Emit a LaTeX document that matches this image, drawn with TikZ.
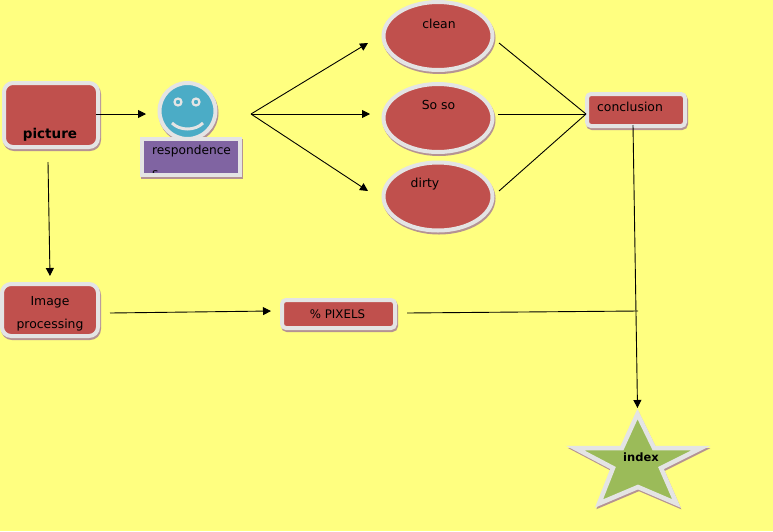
\documentclass[tikz,border=0pt]{standalone}
\usepackage{fontspec}
\setmainfont{DejaVu Sans}
\usetikzlibrary{shadows,shapes.geometric,arrows.meta}
\definecolor{bgy}{HTML}{FFFF80}
\definecolor{redf}{HTML}{C0504D}
\definecolor{rim}{HTML}{E4E4E4}
\definecolor{shad}{HTML}{B59393}
\definecolor{purp}{HTML}{8064A2}
\definecolor{cyanf}{HTML}{4BACC6}
\definecolor{greenf}{HTML}{9BBB59}
\tikzset{
 x=1pt,y=-1pt,
 softshadow/.style={drop shadow={shadow xshift=1pt,shadow yshift=-2pt,fill=#1,draw=#1,line width=4pt,opacity=1}},
 softshadow/.default=shad,
 rimmed/.style={draw=rim,line width=4pt,softshadow},
 redbox/.style={rimmed,fill=redf,rectangle,rounded corners=#1,inner sep=0pt},
 redbox/.default=6pt,
 redoval/.style={rimmed,fill=redf,ellipse,inner sep=0pt,minimum width=109pt,minimum height=68pt},
 lbl/.style={inner sep=0pt,text=black,font=\fontsize{12.4}{15}\selectfont},
 conn/.style={line width=0.9pt,draw=black},
 arr/.style={conn,-{Triangle[length=8pt,width=8pt]}},
}
\begin{document}
\begin{tikzpicture}
\useasboundingbox (0,0) rectangle (773,531);
\fill[bgy] (0,0) rectangle (773,531);
% boxes
\node[redbox=9pt,minimum width=94pt,minimum height=64pt] (picture) at (51,115) {};
\node[redbox=9pt,minimum width=96pt,minimum height=52pt] (image) at (50,310) {};
\node[redbox=4pt,minimum width=113pt,minimum height=28pt] (pixels) at (338.5,314) {};
\node[redbox=4pt,minimum width=98pt,minimum height=32pt] (concl) at (636,110) {};
% ovals
\node[redoval] (clean) at (438,36) {};
\node[redoval] (soso) at (438,118) {};
\node[redoval] (dirty) at (438,196.5) {};
% smiley
\node[rimmed,fill=cyanf,circle,inner sep=0pt,minimum size=56pt] (face) at (187.5,111) {};
\node[circle,fill=cyanf,draw=rim,line width=2.2pt,inner sep=0pt,minimum size=7pt] (eyeL) at (178,102) {};
\node[circle,fill=cyanf,draw=rim,line width=2.2pt,inner sep=0pt,minimum size=7pt] (eyeR) at (196,102) {};
\coordinate (smileL) at (172,123);
\coordinate (smileR) at (203,123);
\draw[rim,line width=3pt] (smileL) .. controls (180,131) and (195,131) .. (smileR);
% respondences box
\node[rimmed,fill=purp,rectangle,inner sep=0pt,minimum width=98pt,minimum height=36pt] (resp) at (191,157) {};
\begin{scope}
\clip (144,141) rectangle (238,172.5);
\node[lbl,anchor=north west,align=left,font=\fontsize{12.2}{23}\selectfont] (resptext) at (152,145) {respondence\\s};
\end{scope}
% star
\coordinate (starTop) at (637.5,408);
\path[draw=rim,fill=greenf,line width=4.5pt,miter limit=10,softshadow]
 (637.5,414) -- (654,448) -- (701,448) -- (661,468) -- (676.5,503.5) -- (638,487) -- (599,503.5) -- (613,468) -- (575,448) -- (622,448) -- cycle;
% labels
\node[lbl,font=\bfseries\fontsize{13.5}{16}\selectfont] (tpicture) at (50,134.5) {picture};
\node[lbl,align=center,font=\fontsize{12.4}{23}\selectfont] (timage) at (50,313.5) {Image\\processing};
\node[lbl,font=\fontsize{11.8}{14}\selectfont] (tpixels) at (337.5,314.5) {\% PIXELS};
\node[lbl] (tconcl) at (630,107) {conclusion};
\node[lbl] (tclean) at (439,24) {clean};
\node[lbl] (tsoso) at (438.5,104.5) {So so};
\node[lbl] (tdirty) at (425,184) {dirty};
\node[lbl,font=\bfseries\fontsize{11.5}{14}\selectfont] (tindex) at (641,457.5) {index};
% connector ends
\coordinate (hub) at (251,114);
\coordinate (pictureE) at (96,114);
\coordinate (faceW) at (146,114);
\coordinate (pictureS) at (48,162);
\coordinate (imageN) at (50,276);
\coordinate (cleanW) at (368,43);
\coordinate (sosoW) at (370,114);
\coordinate (dirtyW) at (368,191);
\coordinate (cleanE) at (499,43);
\coordinate (sosoE) at (498,114);
\coordinate (dirtyE) at (499,191);
\coordinate (conclW) at (586,114);
\coordinate (conclS) at (633,125);
\coordinate (imageE) at (110,313);
\coordinate (pixelsW) at (271,311);
\coordinate (pixelsE) at (407,313);
\coordinate (join) at (638,311);
% connectors
\draw[arr] (pictureE) -- (faceW);
\draw[arr] (pictureS) -- (imageN);
\draw[arr] (hub) -- (cleanW);
\draw[arr] (hub) -- (sosoW);
\draw[arr] (hub) -- (dirtyW);
\draw[conn] (cleanE) -- (conclW);
\draw[conn] (sosoE) -- (conclW);
\draw[conn] (dirtyE) -- (conclW);
\draw[arr] (conclS) -- (starTop);
\draw[arr] (imageE) -- (pixelsW);
\draw[conn] (pixelsE) -- (join);
\end{tikzpicture}
\end{document}
